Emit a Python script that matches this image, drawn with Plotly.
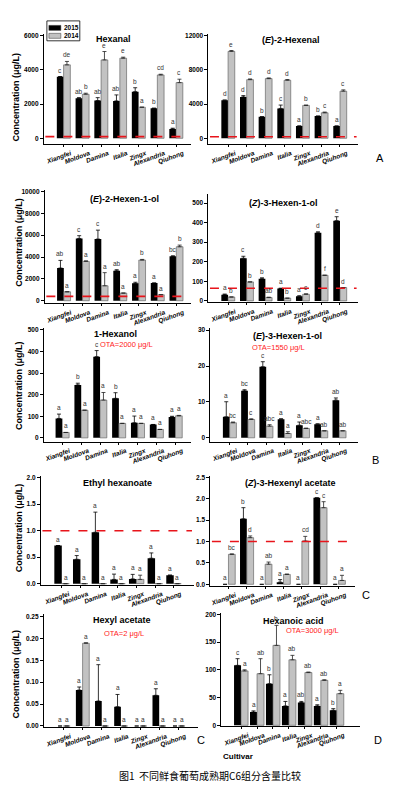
import plotly.graph_objects as go

cultivars = ["Xiangfei", "Moldova", "Damina", "Italia", "Zingx", "Alexandria", "Qiuhong"]

# ---- Hexanal
hexanal_2015 = [3610, 2340, 2210, 2190, 2730, 1760, 550]
hexanal_2015_err = [0, 40, 170, 350, 230, 0, 40]
hexanal_2014 = [4300, 2580, 4590, 4690, 1820, 3710, 3260]
hexanal_2014_err = [200, 60, 490, 60, 0, 40, 200]
hexanal_2015_sig = ["c", "ab", "ab", "ab", "b", "b", "a"]
hexanal_2014_sig = ["de", "b", "e", "e", "a", "cd", "c"]

# ---- (E)-2-Hexenal
e2hexenal_2015 = [4470, 4850, 2520, 3500, 1440, 2600, 1440]
e2hexenal_2015_err = [0, 150, 0, 390, 0, 0, 0]
e2hexenal_2014 = [10180, 6870, 6990, 6800, 3850, 2990, 5520]
e2hexenal_2014_err = [100, 80, 80, 80, 40, 80, 150]
e2hexenal_2015_sig = ["d", "d", "b", "c", "a", "b", "a"]
e2hexenal_2014_sig = ["e", "d", "d", "d", "b", "c", "c"]

# ---- (E)-2-Hexen-1-ol
e2hexenol_2015 = [2990, 5700, 5640, 2740, 1590, 1620, 4060]
e2hexenol_2015_err = [700, 250, 820, 100, 100, 0, 50]
e2hexenol_2014 = [820, 3600, 1370, 700, 3720, 550, 4940]
e2hexenol_2014_err = [0, 50, 1200, 0, 60, 0, 150]
e2hexenol_2015_sig = ["ab", "c", "c", "ab", "a", "a", "bc"]
e2hexenol_2014_sig = ["a", "a", "a", "a", "b", "a", "b"]

# ---- (Z)-3-Hexen-1-ol
z3hexenol_2015 = [32, 218, 113, 63, 24, 348, 410]
z3hexenol_2015_err = [3, 10, 5, 2, 2, 5, 20]
z3hexenol_2014 = [20, 97, 17, 14, 34, 131, 68]
z3hexenol_2014_err = [0, 0, 2, 0, 2, 0, 0]
z3hexenol_2015_sig = ["a", "c", "b", "a", "a", "d", "e"]
z3hexenol_2014_sig = ["b", "b", "ab", "b", "c", "f", "d"]

# ---- 1-Hexanol
hexanol_2015 = [90, 245, 376, 183, 70, 62, 97]
hexanol_2015_err = [20, 8, 28, 26, 31, 0, 3]
hexanol_2014 = [25, 128, 175, 67, 67, 39, 102]
hexanol_2014_err = [0, 0, 35, 0, 0, 0, 2]
hexanol_2015_sig = ["a", "b", "c", "b", "a", "a", "a"]
hexanol_2014_sig = ["a", "a", "a", "a", "a", "a", "a"]

# ---- (E)-3-Hexen-1-ol
e3hexenol_2015 = [5.85, 13.1, 19.8, 5.2, 3.5, 3.8, 10.5]
e3hexenol_2015_err = [4.2, 0.3, 1.4, 0.1, 0.9, 0.1, 0.6]
e3hexenol_2014 = [4.2, 5.1, 3.25, 1.2, 2.6, 1.95, 1.95]
e3hexenol_2014_err = [0.2, 0.2, 0.4, 0.5, 0.1, 0, 0]
e3hexenol_2015_sig = ["a", "bc", "c", "a", "a", "a", "ab"]
e3hexenol_2014_sig = ["bc", "c", "abc", "a", "abc", "ab", "ab"]

# ---- Ethyl hexanoate
ethylhex_2015 = [0.72, 0.46, 0.97, 0.08, 0.09, 0.48, 0.16]
ethylhex_2015_err = [0.0, 0.07, 0.38, 0.10, 0.085, 0.10, 0.0]
ethylhex_2014 = [0, 0, 0, 0, 0.08, 0, 0]
ethylhex_2014_err = [0, 0, 0, 0, 0.08, 0, 0]
ethylhex_2015_sig = ["a", "a", "a", "a", "a", "a", "a"]
ethylhex_2014_sig = ["a", "a", "a", "a", "a", "a", "a"]

# ---- (Z)-3-Hexenyl acetate
z3hexac_2015 = [0, 1.53, 0, 0.05, 0, 2.02, 0]
z3hexac_2015_err = [0, 0.26, 0, 0.06, 0, 0.0, 0]
z3hexac_2014 = [0.70, 1.09, 0.47, 0.23, 1.01, 1.79, 0.09]
z3hexac_2014_err = [0.01, 0.04, 0.05, 0.01, 0.11, 0.14, 0.12]
z3hexac_2015_sig = ["a", "b", "a", "a", "a", "c", "a"]
z3hexac_2014_sig = ["bc", "d", "ab", "a", "cd", "c", "a"]

# ---- Hexyl acetate
hexylac_2015 = [0, 0.082, 0.057, 0.044, 0, 0.070, 0]
hexylac_2015_err = [0, 0.007, 0.083, 0.028, 0, 0.015, 0]
hexylac_2014 = [0, 0.189, 0, 0, 0, 0, 0]
hexylac_2014_err = [0, 0.001, 0, 0, 0, 0, 0]
hexylac_2015_sig = ["a", "a", "a", "a", "a", "a", "a"]
hexylac_2014_sig = ["a", "a", "a", "a", "a", "a", "a"]

# ---- Hexanoic acid
hexacid_2015 = [108, 24, 75, 35, 41, 35, 27]
hexacid_2015_err = [12, 2, 16, 8, 2, 2, 3]
hexacid_2014 = [98, 93, 144, 118, 95, 81, 57]
hexacid_2014_err = [2, 27, 36, 8, 1, 1, 6]
hexacid_2015_sig = ["c", "a", "b", "a", "ab", "a", "b"]
hexacid_2014_sig = ["a", "ab", "b", "ab", "ab", "ab", "a"]

W, H = 394, 789
FONT = "Arial, Liberation Sans, sans-serif"

panels = [
    dict(title="<b>Hexanal</b>", tpos=(113, 37),
         d15=hexanal_2015, e15=hexanal_2015_err, d14=hexanal_2014, e14=hexanal_2014_err,
         s15=hexanal_2015_sig, s14=hexanal_2014_sig,
         xpx=(43, 190), ypx=(32, 143), xr=[-1.05, 6.77], yr=[-350, 6116],
         tv=[0, 2000, 4000, 6000], tt=None, w=0.36, thr=100, ota=None),
    dict(title="<b>(<i>E</i>)-2-Hexenal</b>", tpos=(291, 38),
         d15=e2hexenal_2015, e15=e2hexenal_2015_err, d14=e2hexenal_2014, e14=e2hexenal_2014_err,
         s15=e2hexenal_2015_sig, s14=e2hexenal_2014_sig,
         xpx=(208, 358), ypx=(32, 143), xr=[-1.05, 6.97], yr=[-700, 12233],
         tv=[0, 4000, 8000, 12000], tt=None, w=0.36, thr=180, ota=None),
    dict(title="<b>(<i>E</i>)-2-Hexen-1-ol</b>", tpos=(124, 198),
         d15=e2hexenol_2015, e15=e2hexenol_2015_err, d14=e2hexenol_2014, e14=e2hexenol_2014_err,
         s15=e2hexenol_2015_sig, s14=e2hexenol_2014_sig,
         xpx=(44, 190), ypx=(189, 303), xr=[-1.01, 6.76], yr=[-250, 10128],
         tv=[0, 2000, 4000, 6000, 8000, 10000], tt=None, w=0.36, thr=400, ota=None),
    dict(title="<b>(<i>Z</i>)-3-Hexen-1-ol</b>", tpos=(283, 202),
         d15=z3hexenol_2015, e15=z3hexenol_2015_err, d14=z3hexenol_2014, e14=z3hexenol_2014_err,
         s15=z3hexenol_2015_sig, s14=z3hexenol_2014_sig,
         xpx=(208, 358), ypx=(193, 302), xr=[-1.05, 6.97], yr=[-8, 546],
         tv=[0, 100, 200, 300, 400, 500], tt=None, w=0.36, thr=65, ota=None),
    dict(title="<b>1-Hexanol</b>", tpos=(115, 334),
         d15=hexanol_2015, e15=hexanol_2015_err, d14=hexanol_2014, e14=hexanol_2014_err,
         s15=hexanol_2015_sig, s14=hexanol_2014_sig,
         xpx=(43, 190), ypx=(328, 442), xr=[-0.98, 6.8], yr=[-18, 507],
         tv=[0, 100, 200, 300, 400, 500], tt=None, w=0.36, thr=None,
         ota=("OTA=2000 μg/L", (126, 344))),
    dict(title="<b>(<i>E</i>)-3-Hexen-1-ol</b>", tpos=(287, 336),
         d15=e3hexenol_2015, e15=e3hexenol_2015_err, d14=e3hexenol_2014, e14=e3hexenol_2014_err,
         s15=e3hexenol_2015_sig, s14=e3hexenol_2014_sig,
         xpx=(210, 358), ypx=(328, 442), xr=[-1.05, 7.03], yr=[-1.1, 30.5],
         tv=[0, 10, 20, 30], tt=None, w=0.37, thr=None,
         ota=("OTA=1550 μg/L", (278, 347))),
    dict(title="<b>Ethyl hexanoate</b>", tpos=(117, 483),
         d15=ethylhex_2015, e15=ethylhex_2015_err, d14=ethylhex_2014, e14=ethylhex_2014_err,
         s15=ethylhex_2015_sig, s14=ethylhex_2014_sig,
         xpx=(40, 193), ypx=(476, 586), xr=[-1.12, 7.06], yr=[-0.026, 2.04],
         tv=[0, 0.5, 1.0, 1.5, 2.0], tt=["0.0", "0.5", "1.0", "1.5", "2.0"], w=0.4, thr=1.0, ota=None),
    dict(title="<b>(<i>Z</i>)-3-Hexenyl acetate</b>", tpos=(290, 483),
         d15=z3hexac_2015, e15=z3hexac_2015_err, d14=z3hexac_2014, e14=z3hexac_2014_err,
         s15=z3hexac_2015_sig, s14=z3hexac_2014_sig,
         xpx=(210, 355), ypx=(476, 587), xr=[-0.98, 6.9], yr=[-0.04, 2.54],
         tv=[0, 0.5, 1.0, 1.5, 2.0, 2.5], tt=["0.0", "0.5", "1.0", "1.5", "2.0", "2.5"],
         w=0.37, thr=1.0, ota=None),
    dict(title="<b>Hexyl acetate</b>", tpos=(121, 621),
         d15=hexylac_2015, e15=hexylac_2015_err, d14=hexylac_2014, e14=hexylac_2014_err,
         s15=hexylac_2015_sig, s14=hexylac_2014_sig,
         xpx=(43, 197), ypx=(615, 729), xr=[-1.02, 7.0], yr=[-0.003, 0.256],
         tv=[0, 0.05, 0.10, 0.15, 0.20, 0.25], tt=["0.00", "0.05", "0.10", "0.15", "0.20", "0.25"],
         w=0.35, thr=None, ota=("OTA=2 μg/L", (123, 635))),
    dict(title="<b>Hexanoic acid</b>", tpos=(293, 622),
         d15=hexacid_2015, e15=hexacid_2015_err, d14=hexacid_2014, e14=hexacid_2014_err,
         s15=hexacid_2015_sig, s14=hexacid_2014_sig,
         xpx=(221, 360), ypx=(614, 728), xr=[-1.23, 7.46], yr=[-1.8, 202.5],
         tv=[0, 50, 100, 150, 200], tt=None, w=0.44, thr=None,
         ota=("OTA=3000 μg/L", (312, 632))),
]

fig = go.Figure()
annotations = []
shapes = []


def px(xp, yp):
    return xp / W, 1 - yp / H


def paper_text(text, xp, yp, size, color="black", family=FONT, angle=0, xanchor="center"):
    xx, yy = px(xp, yp)
    return dict(x=xx, y=yy, xref="paper", yref="paper", text=text, textangle=angle,
                showarrow=False, xanchor=xanchor, yanchor="middle",
                font=dict(size=size, color=color, family=family))


for k, p in enumerate(panels, start=1):
    xa = "x" if k == 1 else f"x{k}"
    ya = "y" if k == 1 else f"y{k}"
    w = p["w"]
    fig.add_trace(go.Bar(
        x=cultivars, y=p["d15"], xaxis=xa, yaxis=ya, name="2015",
        offset=-w, width=w, marker=dict(color="black", line=dict(width=0)),
        error_y=dict(type="data", array=p["e15"], arrayminus=[0] * 7, symmetric=False,
                     color="black", thickness=0.8, width=2),
        showlegend=False))
    fig.add_trace(go.Bar(
        x=cultivars, y=p["d14"], xaxis=xa, yaxis=ya, name="2014",
        offset=0, width=w, marker=dict(color="#c2c2c2", line=dict(color="#555555", width=0.6)),
        error_y=dict(type="data", array=p["e14"], arrayminus=[0] * 7, symmetric=False,
                     color="#222222", thickness=0.8, width=2),
        showlegend=False))

    x0, x1 = p["xpx"]
    ytop, ybot = p["ypx"]
    xkey = "xaxis" if k == 1 else f"xaxis{k}"
    ykey = "yaxis" if k == 1 else f"yaxis{k}"
    fig.update_layout(**{
        xkey: dict(domain=[x0 / W, x1 / W], anchor=ya, type="category",
                   categoryorder="array", categoryarray=cultivars, range=p["xr"],
                   showline=True, linecolor="black", linewidth=1, showgrid=False,
                   zeroline=False, ticks="outside", ticklen=2, tickcolor="black",
                   tickangle=-20, ticklabelshift=7, ticklabelstandoff=0,
                   tickfont=dict(size=6.5, color="black", family=FONT, weight="bold", style="italic")),
        ykey: dict(domain=[1 - ybot / H, 1 - ytop / H], anchor=xa, range=p["yr"],
                   showline=True, linecolor="black", linewidth=1, showgrid=False,
                   zeroline=False, ticks="outside", ticklen=3, tickcolor="black",
                   tickvals=p["tv"], ticktext=p["tt"] if p["tt"] else [str(v) for v in p["tv"]],
                   tickfont=dict(size=6.5, color="black", family=FONT, weight="bold")),
    })

    # significance letters
    for i in range(7):
        for vals, errs, sigs, xoff in ((p["d15"], p["e15"], p["s15"], -w / 2),
                                       (p["d14"], p["e14"], p["s14"], w / 2)):
            annotations.append(dict(
                x=i + xoff, y=vals[i] + errs[i], xref=xa, yref=ya, text=sigs[i],
                showarrow=False, xanchor="center", yanchor="bottom", yshift=1,
                font=dict(size=6.5, color="#333333", family=FONT)))

    # threshold line
    if p["thr"] is not None:
        shapes.append(dict(type="line", xref=f"{xa} domain", yref=ya, x0=0.01, x1=0.99,
                           y0=p["thr"], y1=p["thr"],
                           line=dict(color="#e8141b", width=1.6, dash="dash")))
    annotations.append(paper_text(p["title"], *p["tpos"], size=9))
    if p["ota"]:
        annotations.append(paper_text(p["ota"][0], *p["ota"][1], size=7.5, color="#ff1a1a"))

# y-axis titles
for (xp, yp) in [(15, 95), (18, 241), (18, 385), (18, 528), (15, 675)]:
    annotations.append(paper_text("<b>Concentration (μg/L)</b>", xp, yp, size=9, angle=-90))

# panel letters
for txt, (xp, yp) in [("A", (380, 157)), ("B", (375, 460)), ("C", (366, 596)),
                      ("C", (201, 742)), ("D", (378, 742))]:
    annotations.append(paper_text(txt, xp, yp, size=11))

# Cultivar label, placed below the Hexanoic acid panel (relative to its axes)
annotations.append(dict(x=0.0, y=-0.265, xref="x10 domain", yref="y10 domain",
                        text="<b>Cultivar</b>", showarrow=False, xanchor="left",
                        yanchor="middle", font=dict(size=8, color="black", family=FONT)))

# caption
annotations.append(paper_text("图1  不同鲜食葡萄成熟期C6组分含量比较", 210, 777, size=10,
                              family="Noto Sans CJK SC"))

# legend (drawn manually inside panel A)
lx0, ly0 = px(46, 19)
lx1, ly1 = px(79, 39)
shapes.append(dict(type="rect", xref="paper", yref="paper", x0=lx0, x1=lx1, y0=ly1, y1=ly0,
                   line=dict(color="black", width=0.8), fillcolor="white"))
for label, color, yc in (("2015", "black", 26), ("2014", "#c2c2c2", 34)):
    sx0, sy0 = px(48, yc - 2.5)
    sx1, sy1 = px(60, yc + 2.5)
    shapes.append(dict(type="rect", xref="paper", yref="paper", x0=sx0, x1=sx1, y0=sy1, y1=sy0,
                       line=dict(color="#333333", width=0.5), fillcolor=color))
    annotations.append(paper_text("<b>" + label + "</b>", 61, yc, size=6.5, xanchor="left"))

fig.update_layout(
    width=W, height=H, autosize=False,
    margin=dict(l=0, r=0, t=0, b=0),
    paper_bgcolor="white", plot_bgcolor="white",
    barmode="overlay", showlegend=False,
    font=dict(family=FONT, color="black"),
    annotations=annotations, shapes=shapes,
)

fig.write_html("out.html", config={"displayModeBar": False},
               post_script="document.body.style.margin='0';document.body.style.overflow='hidden';")
